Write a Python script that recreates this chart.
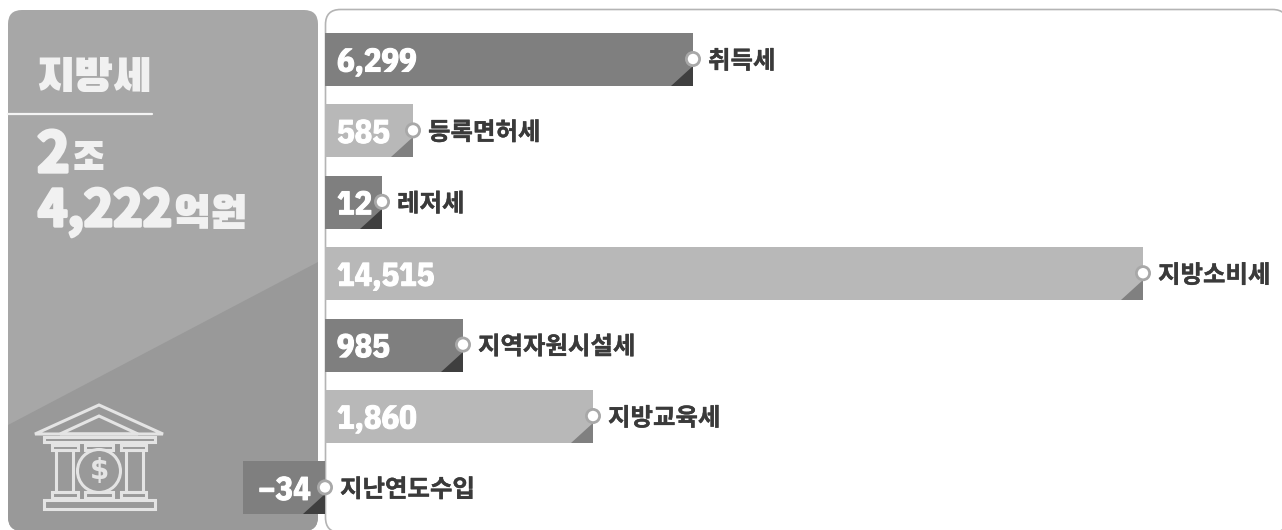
import numpy as np, pandas as pd, seaborn as sns
import matplotlib
matplotlib.use("Agg")
import matplotlib.pyplot as plt
import matplotlib.patheffects as pe
from matplotlib.patches import FancyBboxPatch, Polygon, Rectangle, Circle

names = ['취득세','등록면허세','레저세','지방소비세','지역자원시설세','지방교육세','지난연도수입']
value_labels = ['6,299','585','12','14,515','985','1,860','−34']
# drawn lengths: the infographic's bars are not to scale
drawn_lengths = [368, 88, 57, 818, 138, 268, -82]
shades = ['dark','light','dark','light','dark','light','dark']
title = '지방세'

sns.set_theme(style='white')
KR = ['Noto Sans CJK KR','DejaVu Sans']
HEAVY = ['Black Han Sans','Noto Sans CJK KR','DejaVu Sans']
NUM = ['IBM Plex Sans Condensed','Roboto','DejaVu Sans']
plt.rcParams['font.family'] = KR

fig = plt.figure(figsize=(12.82,5.3), dpi=100)
ax = fig.add_axes([0,0,1,1])
df = pd.DataFrame({'name':names,'len':drawn_lengths,'shade':shades})
sns.barplot(data=df, y='name', x='len', hue='shade', dodge=False, legend=False, ax=ax,
            palette={'dark':'#7f7f7f','light':'#b8b8b8'}, width=53/71.4, zorder=3, linewidth=0, saturation=1)
ax.set_xlim(-325,957)
ax.set_ylim((530-59.5)/71.4, -59.5/71.4)
ax.axis('off')

bg = fig.add_axes([0,0,1,1], zorder=-1); bg.set_xlim(0,1282); bg.set_ylim(530,0); bg.axis('off')
ax.set_zorder(1); ax.patch.set_alpha(0)
top = fig.add_axes([0,0,1,1], zorder=2); top.set_xlim(0,1282); top.set_ylim(530,0); top.axis('off'); top.patch.set_alpha(0)

panel = FancyBboxPatch((8,10),310,521,boxstyle='round,pad=0,rounding_size=14',fc='#a7a7a7',ec='none')
bg.add_patch(panel)
low = Polygon([(8,425),(318,262),(318,535),(8,535)],fc='#999999',ec='none')
bg.add_patch(low); low.set_clip_path(panel)
bg.plot([8,152],[113.5,113.5],color='#f4f4f4',lw=1.6)
bg.add_patch(FancyBboxPatch((325.5,9.5),962,523,boxstyle='round,pad=0,rounding_size=15',fc='white',ec='#b4b4b4',lw=1.2))

W='#f1f1f1'
def H(x,y,s,size):
    return top.text(x,y,s,fontsize=size,color=W,va='baseline',ha='left',family=HEAVY)
def D(x,y,s,size):
    return top.text(x,y,s,fontsize=size,color=W,va='baseline',ha='left',family=KR,weight='bold',
                    path_effects=[pe.withStroke(linewidth=2.4,foreground=W)])
H(36,92,title,33)
D(37,172,'2',40); H(72,171,'조',29)
D(38,226,'4,222',36); H(172,229,'억원',33)

I='#e4e4e4'; lw=2.2
def R(x0,x1,y0,y1): top.add_patch(Rectangle((x0,y0),x1-x0,y1-y0,fc='none',ec=I,lw=lw))
top.add_patch(Polygon([(35,434),(99,405),(163,434)],closed=True,fc='none',ec=I,lw=lw))
top.add_patch(Polygon([(60,434),(99,416),(138,434)],closed=True,fc='none',ec=I,lw=lw))
R(44,155,437,442)
for a,b in [(52,78),(85,113),(121,146)]:
    R(a,b,445,450); R(a,b,492,498)
for a,b in [(56,73),(126,143)]:
    R(a,b,450,492)
R(44,155,500,509)
top.add_patch(Circle((99,471),21.5,fc='#999999',ec=I,lw=lw))
top.text(99,471,'$',fontsize=20,color=I,ha='center',va='center',family='DejaVu Sans',weight='bold')

for i,(L,sh,vl,nm) in enumerate(zip(drawn_lengths,shades,value_labels,names)):
    yc=59.5+71.4*i; end=325+max(L,0); b=yc+26.5
    top.add_patch(Polygon([(end,b-20),(end,b),(end-22,b)],fc='#3f3f3f' if sh=='dark' else '#808080',ec='none'))
    top.add_patch(Circle((end,yc-0.5),6.6,fc='white',ec='#a8a8a8',lw=2))
    tx = 337 if L>0 else 258
    top.text(tx,yc+12,vl,fontsize=23.5,color='white',weight='bold',family=NUM,va='baseline',
             path_effects=[pe.withStroke(linewidth=0.8,foreground='white')])
    top.text(end+15,yc+9,nm,fontsize=17.6,color='#3a3a3a',weight='bold',family=KR,va='baseline',
             path_effects=[pe.withStroke(linewidth=0.25,foreground='#3a3a3a')])

fig.savefig('out.png',dpi=100)
